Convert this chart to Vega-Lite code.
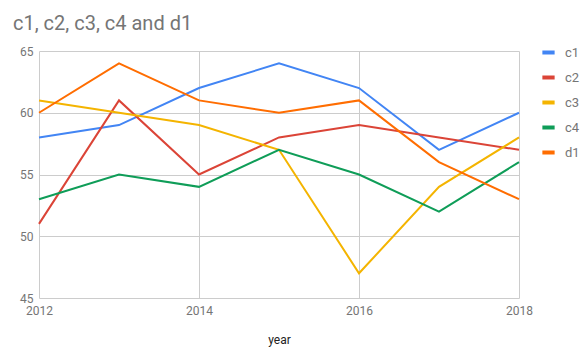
{
  "$schema": "https://vega.github.io/schema/vega-lite/v6.json",
  "width": 480,
  "height": 247,
  "autosize": {"type": "none"},
  "padding": {"left": 39, "top": 51, "right": 69, "bottom": 58},
  "background": "white",
  "title": {
    "text": "c1, c2, c3, c4 and d1",
    "anchor": "start",
    "frame": "group",
    "dx": -26,
    "offset": 10,
    "font": "Roboto",
    "fontSize": 20,
    "fontWeight": "normal",
    "color": "#757575"
  },
  "config": {
    "view": {"stroke": null},
    "font": "Roboto"
  },
  "data": {
    "values": [
      {"year": 2012, "series": "c1", "value": 58},
      {"year": 2013, "series": "c1", "value": 59},
      {"year": 2014, "series": "c1", "value": 62},
      {"year": 2015, "series": "c1", "value": 64},
      {"year": 2016, "series": "c1", "value": 62},
      {"year": 2017, "series": "c1", "value": 57},
      {"year": 2018, "series": "c1", "value": 60},
      {"year": 2012, "series": "c2", "value": 51},
      {"year": 2013, "series": "c2", "value": 61},
      {"year": 2014, "series": "c2", "value": 55},
      {"year": 2015, "series": "c2", "value": 58},
      {"year": 2016, "series": "c2", "value": 59},
      {"year": 2017, "series": "c2", "value": 58},
      {"year": 2018, "series": "c2", "value": 57},
      {"year": 2012, "series": "c3", "value": 61},
      {"year": 2013, "series": "c3", "value": 60},
      {"year": 2014, "series": "c3", "value": 59},
      {"year": 2015, "series": "c3", "value": 57},
      {"year": 2016, "series": "c3", "value": 47},
      {"year": 2017, "series": "c3", "value": 54},
      {"year": 2018, "series": "c3", "value": 58},
      {"year": 2012, "series": "c4", "value": 53},
      {"year": 2013, "series": "c4", "value": 55},
      {"year": 2014, "series": "c4", "value": 54},
      {"year": 2015, "series": "c4", "value": 57},
      {"year": 2016, "series": "c4", "value": 55},
      {"year": 2017, "series": "c4", "value": 52},
      {"year": 2018, "series": "c4", "value": 56},
      {"year": 2012, "series": "d1", "value": 60},
      {"year": 2013, "series": "d1", "value": 64},
      {"year": 2014, "series": "d1", "value": 61},
      {"year": 2015, "series": "d1", "value": 60},
      {"year": 2016, "series": "d1", "value": 61},
      {"year": 2017, "series": "d1", "value": 56},
      {"year": 2018, "series": "d1", "value": 53}
    ]
  },
  "mark": {"type": "line", "strokeWidth": 2, "clip": false},
  "encoding": {
    "x": {
      "field": "year",
      "type": "quantitative",
      "scale": {"domain": [2012, 2018], "nice": false, "zero": false},
      "axis": {
        "values": [2012, 2014, 2016, 2018],
        "format": "d",
        "title": "year",
        "grid": true,
        "gridColor": "#cccccc",
        "domain": false,
        "ticks": false,
        "labelFlush": false,
        "labelBound": false,
        "labelOverlap": false,
        "labelPadding": 7,
        "labelFontSize": 12,
        "labelColor": "#757575",
        "labelFont": "Roboto",
        "titleFont": "Roboto",
        "titleFontSize": 12,
        "titleFontWeight": "normal",
        "titleColor": "#222222",
        "titlePadding": 18
      }
    },
    "y": {
      "field": "value",
      "type": "quantitative",
      "scale": {"domain": [45, 65], "nice": false, "zero": false},
      "axis": {
        "values": [45, 50, 55, 60, 65],
        "title": null,
        "grid": true,
        "gridColor": "#cccccc",
        "domain": false,
        "ticks": false,
        "labelFlush": false,
        "labelBound": false,
        "labelPadding": 6,
        "labelFontSize": 12,
        "labelColor": "#757575",
        "labelFont": "Roboto"
      }
    },
    "color": {
      "field": "series",
      "type": "nominal",
      "scale": {
        "domain": ["c1", "c2", "c3", "c4", "d1"],
        "range": ["#4285F4", "#DB4437", "#F4B400", "#0F9D58", "#FF6D01"]
      },
      "legend": {
        "title": null,
        "orient": "none",
        "legendX": 501,
        "legendY": -7,
        "symbolType": "stroke",
        "symbolStrokeWidth": 4,
        "symbolSize": 150,
        "rowPadding": 8,
        "labelFontSize": 13,
        "labelColor": "#757575",
        "labelFont": "Roboto",
        "labelOffset": 8
      }
    }
  }
}
